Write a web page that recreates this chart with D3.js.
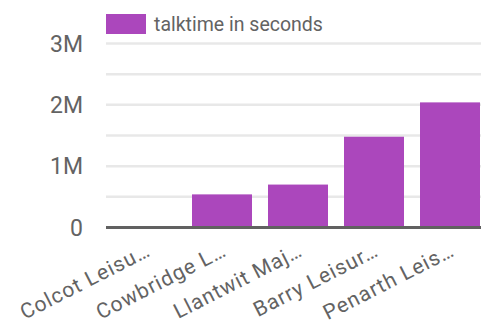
<!DOCTYPE html>
<html>
<head>
<meta charset="utf-8">
<script src="https://cdn.jsdelivr.net/npm/d3@7"></script>
<style>
  body { margin: 0; background: #fff; }
  svg { display: block; font-family: Roboto, sans-serif; }
</style>
</head>
<body>
<svg></svg>
<script>
// venues (labels already truncated as shown) and talktime in seconds
const venues = ["Colcot Leisu…", "Cowbridge L…", "Llantwit Maj…", "Barry Leisur…", "Penarth Leis…"];
const talktime = [3000, 540000, 700000, 1480000, 2040000];
const gridTicks = [0, 500000, 1000000, 1500000, 2000000, 2500000, 3000000];
const labelTicks = [0, 1000000, 2000000, 3000000];
const seriesName = "talktime in seconds";

const width = 481;
const height = 323;
const barColor = "#ab47bc";
const textColor = "#636363";

const svg = d3.select("svg")
  .attr("width", width)
  .attr("height", height);

const x = d3.scaleBand()
  .domain(venues)
  .range([106, 490])
  .paddingInner(16 / 76)
  .paddingOuter(10 / 76);

const y = d3.scaleLinear()
  .domain([0, 3000000])
  .range([227.5, 43.5]);

// gridlines every half million
svg.append("g")
  .selectAll("line")
  .data(gridTicks.filter(d => d > 0))
  .join("line")
    .attr("x1", 106)
    .attr("x2", width)
    .attr("y1", d => y(d))
    .attr("y2", d => y(d))
    .attr("stroke", "#e8e8e8")
    .attr("stroke-width", 2.5);

// y labels
svg.append("g")
  .selectAll("text")
  .data(labelTicks)
  .join("text")
    .attr("x", 83)
    .attr("y", d => y(d))
    .attr("dy", "0.36em")
    .attr("text-anchor", "end")
    .attr("font-size", 23)
    .attr("fill", textColor)
    .text(d => d === 0 ? "0" : d3.format("~s")(d));

// bars
svg.append("g")
  .selectAll("rect")
  .data(venues)
  .join("rect")
    .attr("x", d => x(d))
    .attr("width", x.bandwidth())
    .attr("y", (d, i) => y(talktime[i]))
    .attr("height", (d, i) => y(0) - y(talktime[i]))
    .attr("fill", barColor);

// baseline
svg.append("line")
  .attr("x1", 106)
  .attr("x2", width)
  .attr("y1", y(0))
  .attr("y2", y(0))
  .attr("stroke", "#616161")
  .attr("stroke-width", 3);

// rotated category labels
svg.append("g")
  .selectAll("text")
  .data(venues)
  .join("text")
    .attr("transform", d => `translate(${x(d) + x.bandwidth() / 2 + 6}, 255) rotate(-27)`)
    .attr("text-anchor", "end")
    .attr("font-size", 21)
    .attr("letter-spacing", 1)
    .attr("fill", textColor)
    .text(d => d);

// legend
const legend = svg.append("g");
legend.append("rect")
  .attr("x", 106)
  .attr("y", 14)
  .attr("width", 40)
  .attr("height", 20)
  .attr("fill", barColor);
legend.append("text")
  .attr("x", 154)
  .attr("y", 31)
  .attr("font-size", 19.5)
  .attr("fill", textColor)
  .text(seriesName);
</script>
</body>
</html>
